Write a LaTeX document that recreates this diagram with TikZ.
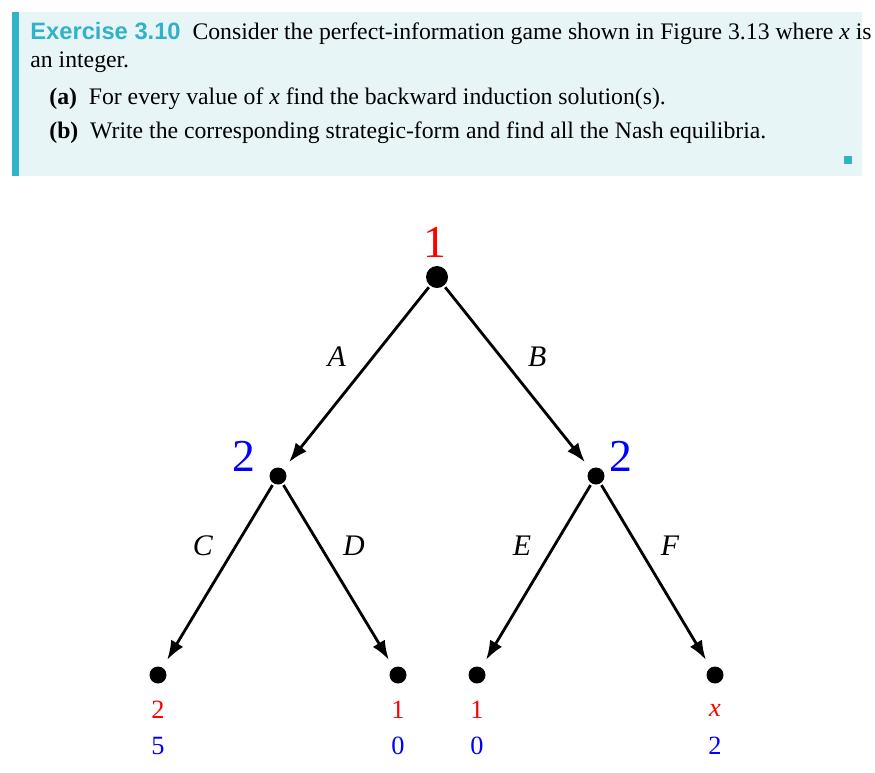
\documentclass[tikz,border=0pt]{standalone}
\usepackage{fontspec}
\setmainfont{Liberation Serif}
\setsansfont{Liberation Sans}
\usetikzlibrary{arrows.meta}
\definecolor{boxcyan}{RGB}{232,245,247}
\definecolor{barcyan}{RGB}{50,178,200}
\begin{document}
\begin{tikzpicture}[x=0.02cm, y=-0.02cm,
    dec/.style={circle, fill=black, inner sep=0pt, minimum size=#1},
    move/.style={-{Latex[length=11pt,width=8pt]}, line width=1.6pt, shorten >=5pt, shorten <=1pt},
    act/.style={font=\fontsize{17}{17}\selectfont\itshape},
    pl/.style={font=\fontsize{26}{26}\selectfont},
    pay/.style={font=\fontsize{15}{15}\selectfont}]
  \useasboundingbox (0,0) rectangle (875,772);
  % exercise box
  \fill[boxcyan] (12,12) rectangle (862,176);
  \fill[barcyan] (12,12) rectangle (19,176);
  \fill[barcyan] (844,156) rectangle (852,164);
  \node[anchor=base west, inner sep=0pt, font=\fontsize{13.5}{16}\selectfont] at (30,39)
    {{\sffamily\bfseries\color{barcyan}Exercise 3.10}\ \ Consider the perfect-information game shown in Figure 3.13 where \textit{x} is};
  \node[anchor=base west, inner sep=0pt, font=\fontsize{13.5}{16}\selectfont] at (30,67) {an integer.};
  \node[anchor=base west, inner sep=0pt, font=\fontsize{13.5}{16}\selectfont] at (49,104)
    {\textbf{(a)}\ \ For every value of \textit{x} find the backward induction solution(s).};
  \node[anchor=base west, inner sep=0pt, font=\fontsize{13.5}{16}\selectfont] at (49,138)
    {\textbf{(b)}\ \ Write the corresponding strategic-form and find all the Nash equilibria.};
  % tree
  \node[dec=0.44cm] (root) at (437,277) {};
  \node[dec=0.34cm] (p2l) at (278,476) {};
  \node[dec=0.34cm] (p2r) at (596,476) {};
  \node[dec=0.34cm] (ll) at (158,675) {};
  \node[dec=0.34cm] (lr) at (398,675) {};
  \node[dec=0.34cm] (rl) at (477,675) {};
  \node[dec=0.34cm] (rr) at (715,675) {};
  \node[pl, red] (lroot) at (435,242) {1};
  \node[pl, blue] (lp2l) at (244,456) {2};
  \node[pl, blue] (lp2r) at (621,456) {2};
  \draw[move] (root) -- (p2l) node[act, pos=0.5, above left=2pt] {A};
  \draw[move] (root) -- (p2r) node[act, pos=0.5, above right=2pt] {B};
  \draw[move] (p2l) -- (ll) node[act, pos=0.45, above left=2pt] {C};
  \draw[move] (p2l) -- (lr) node[act, pos=0.45, above right=2pt] {D};
  \draw[move] (p2r) -- (rl) node[act, pos=0.45, above left=2pt] {E};
  \draw[move] (p2r) -- (rr) node[act, pos=0.45, above right=2pt] {F};
  % payoffs
  \foreach \n/\x/\a/\b in {ll/158/2/5, lr/398/1/0, rl/477/1/0, rr/715/{\textit{x}}/2} {
    \node[pay, red] (\n a) at (\x,710) {\a};
    \node[pay, blue] (\n b) at (\x,746) {\b};
  }
\end{tikzpicture}
\end{document}
